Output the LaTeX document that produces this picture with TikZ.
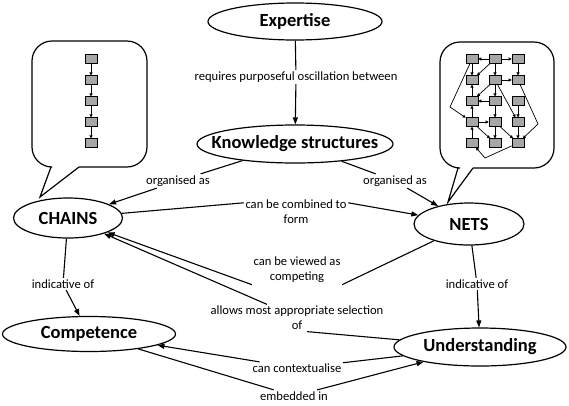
\documentclass[tikz,border=0pt]{standalone}
\usepackage{fontspec}
\setmainfont{Carlito}
\usetikzlibrary{shapes.geometric, arrows.meta}
\tikzset{
	concept/.style={ellipse, draw, line width=1.2pt, inner sep=0pt, font=\bfseries\fontsize{18.5}{20}\selectfont,
		execute at begin node={\hbox to 0pt\bgroup\hss}, execute at end node={\hss\egroup}},
	link/.style={font=\fontsize{12.6}{15}\selectfont, align=center, inner sep=1.5pt},
	linkline/.style={line width=1.1pt},
	linkarrow/.style={linkline, -{Triangle[length=7pt,width=5pt]}},
	callout/.style={line width=1.2pt},
	% small boxes inside the callouts
	cell/.style={draw, fill=gray!70, line width=0.6pt, minimum width=12pt, minimum height=8.5pt, inner sep=0pt},
	cellarrow/.style={line width=0.7pt, -{Triangle[length=3pt,width=3pt]}},
}
\begin{document}
\begin{tikzpicture}[x=1pt, y=-1pt]
	\useasboundingbox (0,0) rectangle (569,405);
	% concepts
	\node[concept, minimum width=174pt, minimum height=37pt] (exp) at (295,21.5) {Expertise};
	\node[concept, minimum width=196pt, minimum height=38pt] (know) at (295,144) {Knowledge structures};
	\node[concept, minimum width=109pt, minimum height=40pt] (chains) at (68,218) {CHAINS};
	\node[concept, minimum width=110pt, minimum height=42pt] (nets) at (469,224) {NETS};
	\node[concept, minimum width=173pt, minimum height=35pt] (comp) at (89,334) {Competence};
	\node[concept, minimum width=172pt, minimum height=38pt] (under) at (480,347) {Understanding};
	% linking phrases
	\node[link] (req) at (296,77) {requires purposeful oscillation between};
	\node[link] (org1) at (178,181) {organised as};
	\node[link] (org2) at (395,181) {organised as};
	\node[link] (comb) at (296,212) {can be combined to\\form};
	\node[link] (view) at (297,270) {can be viewed as\\competing};
	\node[link] (ind1) at (63,284) {indicative of};
	\node[link] (ind2) at (477,284) {indicative of};
	\node[link] (allow) at (297,318) {allows most appropriate selection\\of};
	\node[link] (ctx) at (297,368) {can contextualise};
	\node[link] (emb) at (294,396) {embedded in};
	% connectors
	\draw[linkline] (exp) -- (req);
	\draw[linkarrow] (req) -- (know);
	\draw[linkline] (know) -- (org1);
	\draw[linkarrow] (org1) -- (chains);
	\draw[linkline] (know) -- (org2);
	\draw[linkarrow] (org2) -- (nets);
	\draw[linkline] (chains) -- (comb.170);
	\draw[linkarrow] (comb.10) -- (nets);
	\draw[linkline] (nets) -- (view.south east);
	\draw[linkarrow] (view.south west) -- (chains);
	\draw[linkline] (under) -- ([xshift=10pt]allow.south);
	\draw[linkarrow] ([xshift=-30pt]allow.north) -- (chains);
	\draw[linkline] (chains) -- (ind1);
	\draw[linkarrow] (ind1) -- (comp);
	\draw[linkline] (nets) -- (ind2);
	\draw[linkarrow] (ind2) -- (under);
	\draw[linkline] (under) -- (ctx);
	\draw[linkarrow] (ctx) -- (comp);
	\draw[linkline] (comp) -- (emb);
	\draw[linkarrow] (emb) -- (under);
	% callout for chains
	\draw[callout, rounded corners=20pt] (79,167) -- (147,167) -- (147,41) -- (32,41) -- (32,167) -- (51,167);
	\draw[callout] (51,167) -- (40,197) -- (79,167);
	\foreach \i in {1,...,5}
		\node[cell] (c\i) at (91,38+21*\i) {};
	\foreach \i/\j in {1/2,2/3,3/4,4/5}
		\draw[cellarrow] (c\i) -- (c\j);
	% callout for nets
	\draw[callout, rounded corners=20pt] (473,168) -- (554,168) -- (554,42) -- (440,42) -- (440,168) -- (458,168);
	\draw[callout] (458,168) -- (448,202) -- (473,168);
	\foreach \r in {1,...,5}
		\foreach \c in {1,2,3}
			\node[cell] (n\r\c) at (449+23*\c,38+21*\r) {};
	\foreach \a/\b in {12/11,12/13,11/21,12/21,12/22,13/23,22/23,31/21,22/31,32/31,22/32,22/43,
			41/31,41/42,41/52,51/41,32/42,42/52,42/53,43/53,33/43}
		\draw[cellarrow] (n\a) -- (n\b);
	\draw[cellarrow] (n23) -- (538,124) -- (n53);
	\draw[cellarrow] (n11) -- (450,107) -- (n41);
	\draw[cellarrow] (n53) -- (485,158) -- (n51);
\end{tikzpicture}
\end{document}
